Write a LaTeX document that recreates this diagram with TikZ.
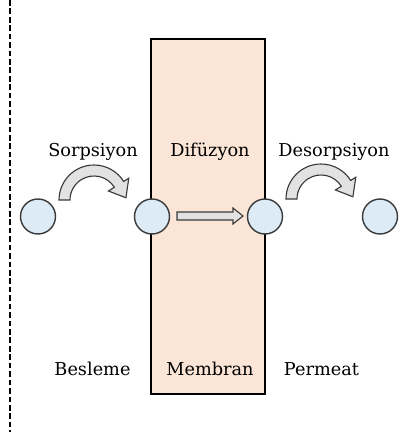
\documentclass[tikz,border=0pt]{standalone}
\usepackage{fontspec}
\setmainfont{DejaVu Serif}

\definecolor{membranfill}{HTML}{FBE5D6}
\definecolor{molfill}{HTML}{DDEBF7}
\definecolor{arrowfill}{HTML}{E2E2E2}
\definecolor{edgegray}{HTML}{3A3A3A}

\tikzset{
    mol/.style={circle, draw=edgegray, fill=molfill, line width=1pt, minimum size=0.875cm, inner sep=0pt},
    blockarrow/.style={draw=edgegray, fill=arrowfill, line width=0.8pt, line join=miter},
    lbl/.style={anchor=base, font=\fontsize{12.6}{15}\selectfont}
}

\begin{document}
\begin{tikzpicture}[x=0.025cm, y=0.025cm]
        \useasboundingbox (0, 0) rectangle (403, 437);

        % feed side boundary
        \draw[line width=1.6pt, dash pattern=on 4pt off 2pt] (10, 437) -- (10, 5);

        % membrane
        \draw[fill=membranfill, line width=1.1pt] (151, 43) rectangle (265, 398);

        % molecules
        \foreach \n/\x in {feed/38, memin/152, memout/265, perm/380}{
                \node[mol] (\n) at (\x, 220.5) {};
            }

        % sorption and desorption
        \foreach \cx/\cy in {94/237, 321/238}{
                \begin{scope}[shift={(\cx, \cy)}]
                    \draw[blockarrow] (180:35) arc[start angle=180, end angle=32, radius=35]
                        -- (32:41) -- (4:32) -- (32:17) -- (32:24)
                        arc[start angle=32, end angle=180, radius=24] -- cycle;
                \end{scope}
            }

        % diffusion
        \draw[blockarrow] (177, 217) -- (233, 217) -- (233, 213) -- (243, 221)
            -- (233, 229) -- (233, 225) -- (177, 225) -- cycle;

        \foreach \n/\x/\y/\t in {sorp/93/281/Sorpsiyon, dif/210/281/Difüzyon, desorp/334/281/Desorpsiyon,
                besleme/92.5/61/Besleme, membran/210/61/Membran, permeat/321.5/61/Permeat}{
                \node[lbl] (\n) at (\x, \y) {\t};
            }
    \end{tikzpicture}
\end{document}
